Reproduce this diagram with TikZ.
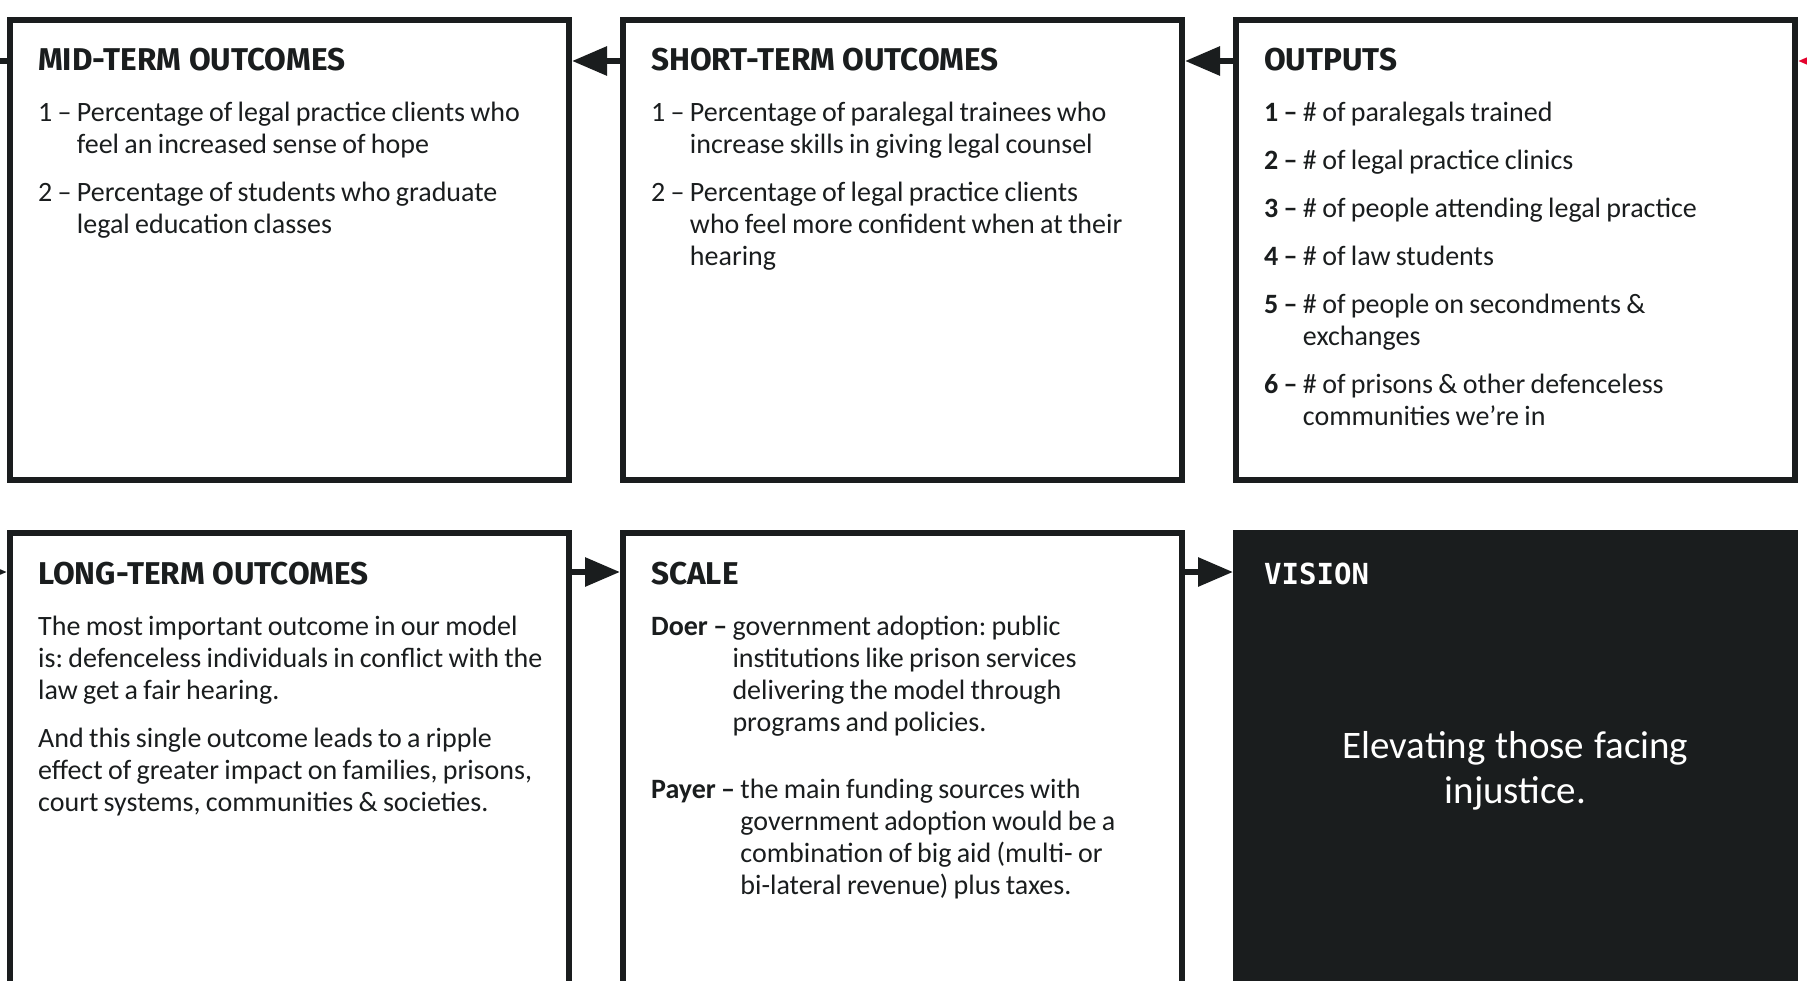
\documentclass[tikz,border=0pt]{standalone}
\usepackage{fontspec}
\setmainfont{Carlito}
\newfontfamily\headfont{Fira Sans}
\newfontfamily\visionfont{DejaVu Sans Mono}
\usetikzlibrary{arrows.meta, positioning, calc}

\definecolor{ink}{HTML}{1A1D1E}
\definecolor{signal}{HTML}{E4032E}

% numbered line whose wrapped lines hang under the text
\newcommand{\hangrow}[2]{\setbox0=\hbox{#1}\hangindent=\wd0 \hangafter=1 \noindent\box0 #2\par}
% tighter word spaces and item gaps in the panel texts
\newcommand{\paneltext}{\spaceskip=0.19em plus 0.05em minus 0.05em\relax\parskip=16pt\relax}

\begin{document}
\frenchspacing
\begin{tikzpicture}[x=1pt, y=1pt,
        panel/.style={draw=ink, line width=6pt, minimum width=559pt, minimum height=460pt, inner sep=0pt},
        head/.style={anchor=base west, inner sep=0pt, text=ink, font=\headfont\bfseries\fontsize{31.5}{36}\selectfont},
        body/.style={anchor=base west, inner sep=0pt, text width=540pt, align=flush left, text=ink, font=\fontsize{28}{32}\selectfont},
        flow/.style={draw=ink, line width=6pt, -{Triangle[length=35pt, width=28pt]}}]

        \fill[white] (0,0) rectangle (1807,-981);
        \useasboundingbox (0,0) rectangle (1807,-981);

        % Rows the connectors run along
        \coordinate (toprow) at (0,-61);
        \coordinate (botrow) at (0,-572);
        \coordinate (offleft) at (-40,0);
        \coordinate (offright) at (1850,0);

        % Top row of panels
        \node[panel, anchor=north west] (midterm) at (7,-17) {};
        \node[panel, right=48pt of midterm] (shortterm) {};
        \node[panel, right=48pt of shortterm] (outputs) {};

        % Bottom row of panels (run off the page)
        \node[panel, minimum height=480pt, anchor=north west] (longterm) at (7,-530) {};
        \node[panel, minimum height=480pt, right=48pt of longterm] (scaleup) {};
        \node[panel, minimum height=480pt, fill=ink, right=48pt of scaleup] (vision) {};

        % Headings
        \node[head] (midtermhead) at ([xshift=31pt, yshift=-54pt]midterm.north west) {MID-TERM OUTCOMES};
        \node[head] (shorttermhead) at ([xshift=31pt, yshift=-54pt]shortterm.north west) {SHORT-TERM OUTCOMES};
        \node[head] (outputshead) at ([xshift=31pt, yshift=-54pt]outputs.north west) {OUTPUTS};
        \node[head] (longtermhead) at ([xshift=31pt, yshift=-54pt]longterm.north west) {LONG-TERM OUTCOMES};
        \node[head] (scaleuphead) at ([xshift=31pt, yshift=-54pt]scaleup.north west) {SCALE};
        \node[head, text=white, font=\visionfont\bfseries\fontsize{29}{36}\selectfont] (visionhead) at ([xshift=31pt, yshift=-54pt]vision.north west) {VISION};

        % Panel texts
        \node[body] (midtermtext) at ([xshift=31pt, yshift=-105pt]midterm.north west) {\paneltext
            \hangrow{1 – }{Percentage of legal practice clients who\newline feel an increased sense of hope}%
            \hangrow{2 – }{Percentage of students who graduate\newline legal education classes}};
        \node[body] (shorttermtext) at ([xshift=31pt, yshift=-105pt]shortterm.north west) {\paneltext
            \hangrow{1 – }{Percentage of paralegal trainees who\newline increase skills in giving legal counsel}%
            \hangrow{2 – }{Percentage of legal practice clients\newline who feel more confident when at their\newline hearing}};
        \node[body] (outputstext) at ([xshift=31pt, yshift=-105pt]outputs.north west) {\paneltext
            \hangrow{\textbf{1 –} }{\# of paralegals trained}%
            \hangrow{\textbf{2 –} }{\# of legal practice clinics}%
            \hangrow{\textbf{3 –} }{\# of people attending legal practice}%
            \hangrow{\textbf{4 –} }{\# of law students}%
            \hangrow{\textbf{5 –} }{\# of people on secondments \&\newline exchanges}%
            \hangrow{\textbf{6 –} }{\# of prisons \& other defenceless\newline communities we’re in}};
        \node[body] (longtermtext) at ([xshift=31pt, yshift=-105pt]longterm.north west) {\paneltext
            The most important outcome in our model\newline is: defenceless individuals in conflict with the\newline law get a fair hearing.\par
            And this single outcome leads to a ripple\newline effect of greater impact on families, prisons,\newline court systems, communities \& societies.};
        \node[body] (scaleuptext) at ([xshift=31pt, yshift=-105pt]scaleup.north west) {\paneltext
            \hangrow{\textbf{Doer –} }{government adoption: public\newline institutions like prison services\newline delivering the model through\newline programs and policies.}%
            \vspace{19pt}%
            \hangrow{\textbf{Payer –} }{the main funding sources with\newline government adoption would be a\newline combination of big aid (multi- or\newline bi-lateral revenue) plus taxes.}};
        \node[body, anchor=base, align=center, text=white, font=\fontsize{39}{45}\selectfont] (visiontext) at ([yshift=-228pt]vision.north) {\paneltext Elevating those facing\\injustice.};

        % Connectors
        \draw[flow, signal] (offright |- toprow) -- (outputs.east |- toprow);
        \draw[flow] (outputs.west |- toprow) -- (shortterm.east |- toprow);
        \draw[flow] (shortterm.west |- toprow) -- (midterm.east |- toprow);
        \draw[ink, line width=6pt] (midterm.west |- toprow) -- (offleft |- toprow);
        \draw[flow] (offleft |- botrow) -- (longterm.west |- botrow);
        \draw[flow] (longterm.east |- botrow) -- (scaleup.west |- botrow);
        \draw[flow] (scaleup.east |- botrow) -- (vision.west |- botrow);

\end{tikzpicture}
\end{document}
